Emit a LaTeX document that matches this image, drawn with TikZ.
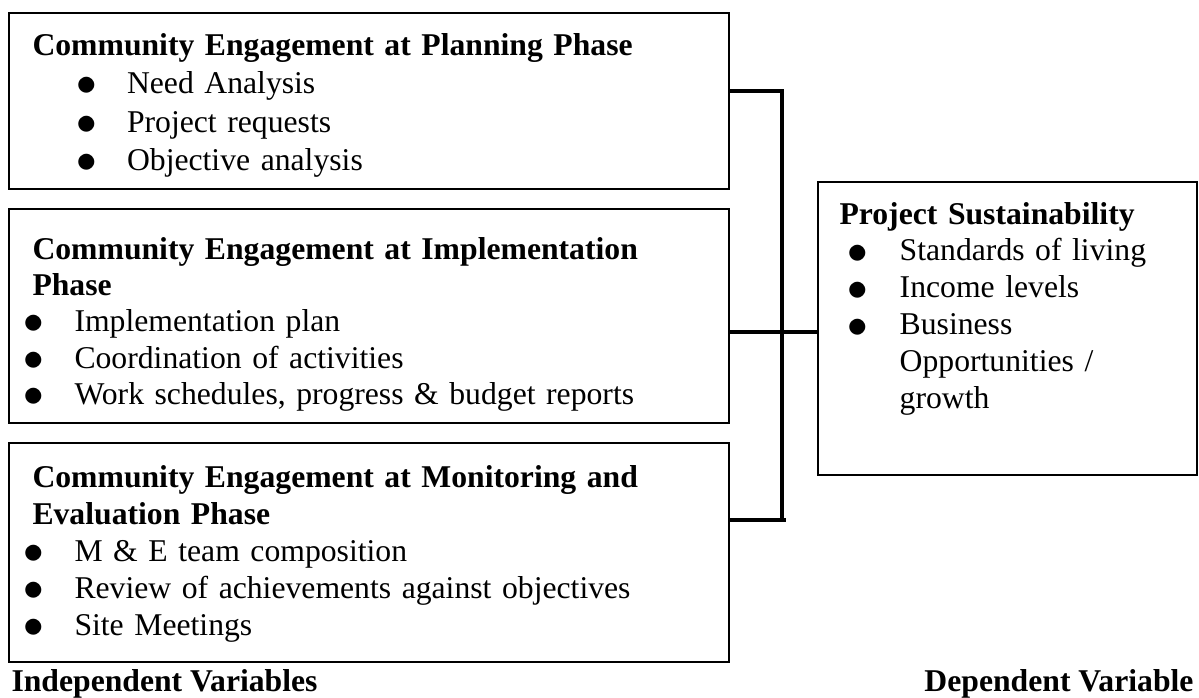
\documentclass[tikz,border=0pt]{standalone}
\usepackage{fontspec}
\setmainfont{Liberation Serif}
\usetikzlibrary{fit}

\newcommand{\bitem}[3]{\hspace*{#1}\makebox[#2][l]{\smash{\raisebox{-0.8pt}{\scalebox{1.3}{$\bullet$}}}}#3}

\begin{document}
\begin{tikzpicture}[x=0.3788pt, y=-0.3788pt,
	frame/.style={draw, line width=0.85pt, inner sep=0pt},
	txt/.style={anchor=north west, inner sep=0pt, align=left, text width=#1, font=\fontsize{12pt}{13.8pt}\selectfont},
	link/.style={line width=1.4pt}]
	\useasboundingbox (0,0) rectangle (1199,697);
	
	\node[frame, fit={(9,13) (729,189)}] (plan) {};
	\node[frame, fit={(9,209) (729,423)}] (impl) {};
	\node[frame, fit={(9,443) (729,662)}] (mon) {};
	\node[frame, fit={(818,182) (1197,475)}] (sust) {};
	
	\node[txt=250pt, font=\fontsize{12pt}{14.6pt}\selectfont] (plantext) at (32,32.5) {\textbf{Community Engagement at Planning Phase}\\
		\bitem{16.5pt}{19.3pt}{Need Analysis}\\
		\bitem{16.5pt}{19.3pt}{Project requests}\\
		\bitem{16.5pt}{19.3pt}{Objective analysis}};
	\node[txt=250pt] (impltext) at (32,236.5) {\textbf{Community Engagement at Implementation}\\
		\textbf{Phase}\\
		\bitem{-3.5pt}{19.4pt}{Implementation plan}\\
		\bitem{-3.5pt}{19.4pt}{Coordination of activities}\\
		\bitem{-3.5pt}{19.4pt}{Work schedules, progress \& budget reports}};
	\node[txt=250pt, font=\fontsize{12pt}{14pt}\selectfont] (montext) at (32,465) {\textbf{Community Engagement at Monitoring and}\\
		\textbf{Evaluation Phase}\\
		\bitem{-3.5pt}{19.4pt}{M \& E team composition}\\
		\bitem{-3.5pt}{19.4pt}{Review of achievements against objectives}\\
		\bitem{-3.5pt}{19.4pt}{Site Meetings}};
	\node[txt=125pt, font=\fontsize{12pt}{14pt}\selectfont] (susttext) at (839,201.5) {\textbf{Project Sustainability}\\
		\bitem{2.9pt}{19.9pt}{Standards of living}\\
		\bitem{2.9pt}{19.9pt}{Income levels}\\
		\bitem{2.9pt}{19.9pt}{Business}\\
		\hspace*{22.8pt}Opportunities /\\
		\hspace*{22.8pt}growth};
	
	\node[anchor=base west, inner sep=0pt, font=\fontsize{12pt}{13.8pt}\selectfont\bfseries] (indep) at (11,691) {Independent Variables};
	\node[anchor=base east, inner sep=0pt, font=\fontsize{12pt}{13.8pt}\selectfont\bfseries] (dep) at (1194,691) {Dependent Variable};
	
	\coordinate (top) at (782,91);
	\coordinate (mid) at (782,332);
	\coordinate (bot) at (782,520);
	\coordinate (tail) at (786,520);
	\draw[link] (plan.east |- top) -- (top) -- (bot);
	\draw[link] (impl.east |- mid) -- (sust.west |- mid);
	\draw[link] (mon.east |- bot) -- (tail);
\end{tikzpicture}
\end{document}
